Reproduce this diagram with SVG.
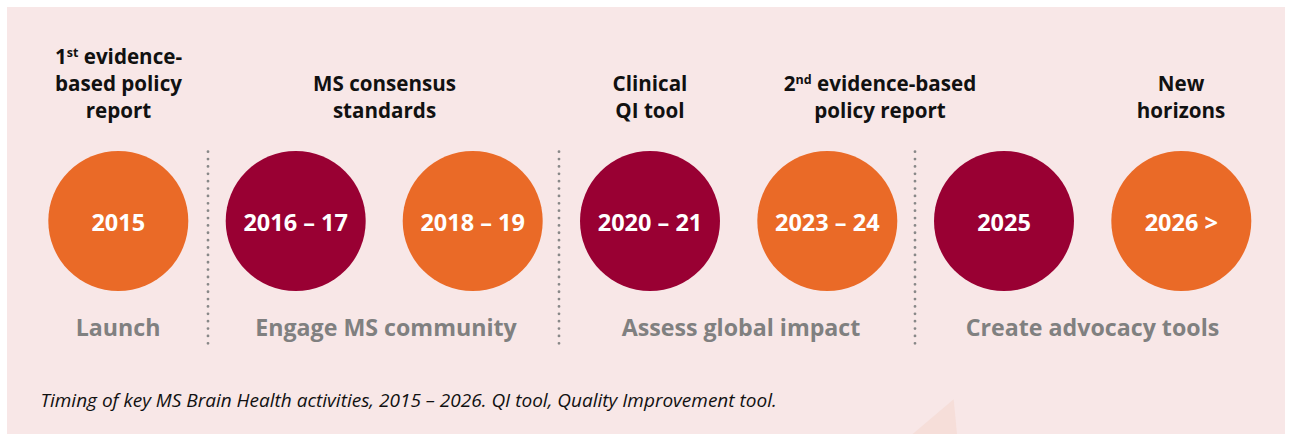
<svg xmlns="http://www.w3.org/2000/svg" width="1291" height="434" viewBox="0 0 1291 434">
<style>
.bg{fill:#F8E7E7}
.or{fill:#EA6A27}
.cr{fill:#990033}
.yr{font-family:"Open Sans",sans-serif;font-weight:700;font-size:23.5px;fill:#ffffff;text-anchor:middle}
.top{font-family:"Open Sans",sans-serif;font-weight:700;font-size:20.6px;fill:#111111;text-anchor:middle}
.sup{font-size:12.5px}
.bot{font-family:"Open Sans",sans-serif;font-weight:700;font-size:23.2px;fill:#808080;text-anchor:middle}
.cap{font-family:"Open Sans",sans-serif;font-style:italic;font-size:19px;fill:#111111}
.dot{stroke:#888888;stroke-width:2.8;stroke-linecap:round;stroke-dasharray:0 7.37;fill:none}
</style>
<rect class="bg" x="7" y="7" width="1278" height="430"/>
<polygon points="953.7,399.3 912.7,434 957,434" fill="#F6DED9"/>
<g id="connectors">
<line class="dot" x1="208" y1="151.7" x2="208" y2="344"/>
<line class="dot" x1="559" y1="151.7" x2="559" y2="344"/>
<line class="dot" x1="915" y1="151.7" x2="915" y2="344"/>
</g>
<g id="label-launch-top">
<text class="top" x="118.5" y="64">1<tspan class="sup" dy="-7">st</tspan><tspan dy="7"> evidence-</tspan></text>
<text class="top" x="118.5" y="91">based policy</text>
<text class="top" x="118.5" y="118">report</text>
</g>
<g id="label-ms-consensus">
<text class="top" x="384.5" y="91">MS consensus</text>
<text class="top" x="384.5" y="118">standards</text>
</g>
<g id="label-clinical">
<text class="top" x="650" y="91">Clinical</text>
<text class="top" x="650" y="118">QI tool</text>
</g>
<g id="label-2nd-report">
<text class="top" x="880" y="91">2<tspan class="sup" dy="-7">nd</tspan><tspan dy="7"> evidence-based</tspan></text>
<text class="top" x="880" y="118">policy report</text>
</g>
<g id="label-new-horizons">
<text class="top" x="1181" y="91">New</text>
<text class="top" x="1181" y="118">horizons</text>
</g>
<g id="node-2015"><circle class="or" cx="118.3" cy="221" r="70"/><text class="yr" x="118.3" y="230.5">2015</text></g>
<g id="node-2016-17"><circle class="cr" cx="295.7" cy="221" r="70"/><text class="yr" x="295.7" y="230.5">2016 – 17</text></g>
<g id="node-2018-19"><circle class="or" cx="472.7" cy="221" r="70"/><text class="yr" x="472.7" y="230.5">2018 – 19</text></g>
<g id="node-2020-21"><circle class="cr" cx="650" cy="221" r="70"/><text class="yr" x="650" y="230.5">2020 – 21</text></g>
<g id="node-2023-24"><circle class="or" cx="827.3" cy="221" r="70"/><text class="yr" x="827.3" y="230.5">2023 – 24</text></g>
<g id="node-2025"><circle class="cr" cx="1004" cy="221" r="70"/><text class="yr" x="1004" y="230.5">2025</text></g>
<g id="node-2026"><circle class="or" cx="1181.3" cy="221" r="70"/><text class="yr" x="1181.3" y="230.5">2026 &gt;</text></g>
<g id="phase-labels">
<text class="bot" x="118" y="336">Launch</text>
<text class="bot" x="386" y="336">Engage MS community</text>
<text class="bot" x="741" y="336">Assess global impact</text>
<text class="bot" x="1092.5" y="336">Create advocacy tools</text>
</g>
<text class="cap" x="40.5" y="407">Timing of key MS Brain Health activities, 2015 – 2026. QI tool, Quality Improvement tool.</text>
</svg>
